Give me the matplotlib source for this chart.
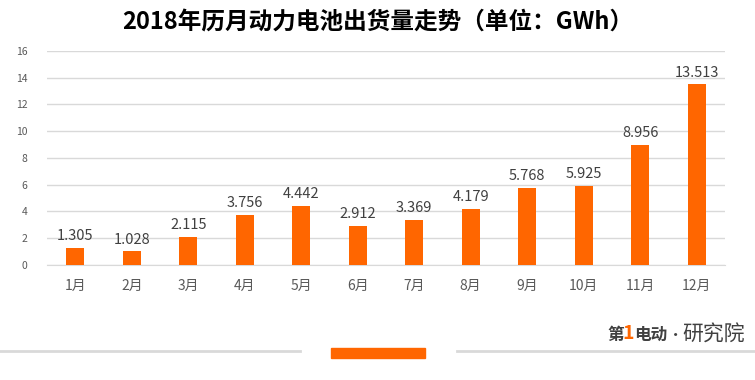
import numpy as np
import matplotlib.pyplot as plt
from matplotlib.patches import Rectangle
from matplotlib.lines import Line2D

plt.rcParams['font.family'] = ['Noto Sans CJK SC', 'DejaVu Sans']

months = ['1月', '2月', '3月', '4月', '5月', '6月', '7月', '8月', '9月', '10月', '11月', '12月']
shipments = [1.305, 1.028, 2.115, 3.756, 4.442, 2.912, 3.369, 4.179, 5.768, 5.925, 8.956, 13.513]
yticks = [0, 2, 4, 6, 8, 10, 12, 14, 16]

fig = plt.figure(figsize=(7.55, 3.8), dpi=100)
ax = fig.add_axes([0.0623, 0.3026, 0.8977, 0.5634])

x = np.arange(len(months))
bars = ax.bar(x, shipments, width=0.32, color='#FF6600', zorder=3)

# value labels above each bar
for xi, v in zip(x, shipments):
    ax.text(xi, v + 0.35, f'{v:.3f}', ha='center', va='bottom', fontsize=10.5, color='#404040')

ax.set_xlim(-0.5, len(months) - 0.5)
ax.set_ylim(0, 16)
ax.set_yticks(yticks)
ax.set_yticklabels([str(t) for t in yticks], fontsize=7.5, color='#595959')
ax.set_xticks(x)
ax.set_xticklabels(months, fontsize=10, color='#595959')
ax.tick_params(axis='both', length=0)
ax.tick_params(axis='x', pad=10)
ax.tick_params(axis='y', pad=14)
ax.grid(axis='y', color='#D9D9D9', linewidth=1, zorder=0)
for s in ['top', 'right', 'left']:
    ax.spines[s].set_visible(False)
ax.spines['bottom'].set_color('#D9D9D9')

fig.text(0.5, 0.94, '2018年历月动力电池出货量走势（单位：GWh）', ha='center', va='center',
         fontsize=17, fontweight='bold', color='#000000')

# bottom decoration
fig.add_artist(Line2D([0, 0.397], [0.0763, 0.0763], color='#D9D9D9', linewidth=2))
fig.add_artist(Line2D([0.605, 1.0], [0.0763, 0.0763], color='#D9D9D9', linewidth=2))
fig.add_artist(Rectangle((0.4384, 0.058), 0.1245, 0.026, color='#FF6600', transform=fig.transFigure))

# logo text
fig.text(0.815, 0.118, '第', fontsize=12, fontweight='bold', color='#404040', ha='center', va='center')
fig.text(0.832, 0.122, '1', fontsize=14, fontweight='bold', style='italic', color='#FF6600', ha='center', va='center')
fig.text(0.862, 0.118, '电动', fontsize=12, fontweight='bold', color='#404040', ha='center', va='center')
fig.text(0.895, 0.118, '•', fontsize=11, color='#404040', ha='center', va='center')
fig.text(0.945, 0.118, '研究院', fontsize=15, color='#404040', ha='center', va='center')

plt.savefig('out.png', dpi=100)
